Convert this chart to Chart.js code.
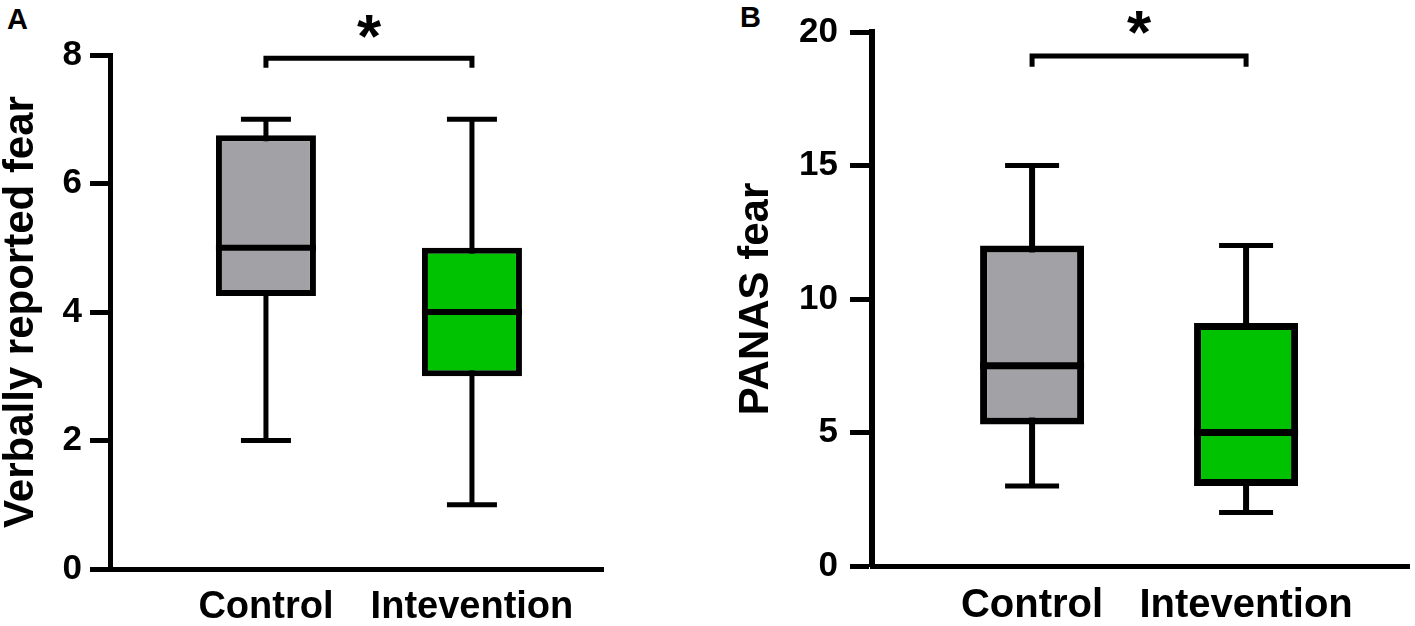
<!DOCTYPE html>
<html lang="en">
<head>
<meta charset="UTF-8">
<title>Fear box plots</title>
<script src="https://cdn.jsdelivr.net/npm/chart.js"></script>
<style>
  body { margin: 0; background: #fff; width: 1415px; height: 626px; position: relative; overflow: hidden;
         font-family: "Liberation Sans", Arial, sans-serif; }
  canvas { position: absolute; top: 0; }
  .tag { position: absolute; font-weight: bold; font-size: 29px; line-height: 29px; }
</style>
</head>
<body>
<div class="tag" style="left:7px;top:5px">A</div>
<div class="tag" style="left:740px;top:3px">B</div>
<canvas id="chartA" width="604" height="626" style="left:0"></canvas>
<canvas id="chartB" width="675" height="626" style="left:735px"></canvas>

<script>
const categories = ['Control', 'Intevention']
const groupPos = [1, 2]

// A: verbally reported fear
const fearMin = [2, 1]
const fearQ1 = [4.25, 3]
const fearMedian = [5, 4]
const fearQ3 = [6.75, 5]
const fearMax = [7, 7]
const fearTicks = [0, 2, 4, 6, 8]
const fearBracket = [7.8, 7.95]  // leg end, bar
const fearStar = 8.5

// B: PANAS fear
const panasMin = [3, 2]
const panasQ1 = [5.3, 3]
const panasMedian = [7.5, 5]
const panasQ3 = [12, 9.1]
const panasMax = [15, 12]
const panasTicks = [0, 5, 10, 15, 20]
const panasBracket = [18.7, 19.1]
const panasStar = 20.5

const FONT = '"Liberation Sans", Arial, sans-serif'
const boxColors = ['rgb(162,162,166)', 'rgb(0,194,0)']

const starPlugin = {
  id: 'star',
  afterDraw(chart, args, opts) {
    const { ctx, scales: { x, y } } = chart
    ctx.save()
    ctx.font = `bold ${opts.size}px ${FONT}`
    ctx.textAlign = 'center'
    ctx.textBaseline = 'alphabetic'
    ctx.fillStyle = '#000'
    ctx.fillText('*', x.getPixelForValue(1.5), y.getPixelForValue(opts.value) + opts.size * 0.55)
    ctx.restore()
  }
}

function makePanel(canvas, d, s) {
  const pts = vals => groupPos.map((x, i) => ({ x, y: vals[i] }))
  return new Chart(canvas, {
    type: 'bar',
    data: {
      datasets: [
        {
          type: 'bar', order: 3, grouped: false,
          data: groupPos.map((x, i) => ({ x, y: [d.min[i], d.max[i]] })),
          backgroundColor: '#000', maxBarThickness: s.whisker
        },
        {
          type: 'bar', order: 2, grouped: false,
          data: groupPos.map((x, i) => ({ x, y: [d.q1[i], d.q3[i]] })),
          backgroundColor: boxColors, borderColor: '#000', borderWidth: s.boxBorder,
          borderSkipped: false, maxBarThickness: s.box
        },
        {
          type: 'line', order: 1, showLine: false,
          data: pts(d.median),
          pointStyle: 'line', pointRadius: s.box / 2, pointBorderWidth: s.median,
          pointBorderColor: '#000'
        },
        {
          type: 'line', order: 1, showLine: false,
          data: pts(d.min).concat(pts(d.max)),
          pointStyle: 'line', pointRadius: s.cap / 2, pointBorderWidth: 5,
          pointBorderColor: '#000'
        },
        {
          type: 'line', order: 0,
          data: [
            { x: 1, y: d.bracket[0] }, { x: 1, y: d.bracket[1] },
            { x: 2, y: d.bracket[1] }, { x: 2, y: d.bracket[0] }
          ],
          borderColor: '#000', borderWidth: s.bracket, pointRadius: 0, fill: false
        }
      ]
    },
    options: {
      responsive: false,
      animation: false,
      events: [],
      layout: { autoPadding: false, padding: { top: s.top, left: 0, right: 0, bottom: 0 } },
      plugins: {
        legend: { display: false },
        tooltip: { enabled: false },
        star: { value: d.star, size: 62 }
      },
      scales: {
        x: {
          type: 'linear', min: s.xMin, max: s.xMax, offset: false,
          grid: { display: false, drawTicks: false, offset: false },
          border: { display: true, color: '#000', width: s.xAxis },
          afterBuildTicks: ax => { ax.ticks = groupPos.map(v => ({ value: v })) },
          afterFit: ax => { ax.height = s.bottom; ax.paddingLeft = 0; ax.paddingRight = 0 },
          ticks: {
            autoSkip: false, maxRotation: 0, padding: 16, color: '#000',
            font: { family: FONT, size: s.xFont, weight: 'bold' },
            callback: v => categories[groupPos.indexOf(v)]
          }
        },
        y: {
          min: d.ticks[0], max: d.ticks[d.ticks.length - 1],
          afterBuildTicks: ax => { ax.ticks = d.ticks.map(v => ({ value: v })) },
          afterFit: ax => { ax.width = s.left; ax.paddingTop = 0; ax.paddingBottom = 0 },
          grid: { drawOnChartArea: false, drawTicks: true, tickLength: s.tick, tickWidth: 5,
                  color: '#000', tickColor: '#000' },
          border: { display: true, color: '#000', width: s.yAxis },
          ticks: { padding: s.tickPad, color: '#000', font: { family: FONT, size: 35, weight: 'bold' } },
          title: {
            display: true, text: d.title, color: '#000', padding: 0,
            font: { family: FONT, size: 42, weight: 'bold', lineHeight: 1 }
          }
        }
      }
    },
    plugins: [starPlugin]
  })
}

makePanel(document.getElementById('chartA'), {
  min: fearMin, q1: fearQ1, median: fearMedian, q3: fearQ3, max: fearMax,
  ticks: fearTicks, bracket: fearBracket, star: fearStar, title: 'Verbally reported fear'
}, {
  left: 110, top: 55, bottom: 57, xMin: 0.243, xMax: 2.641, tick: 20, tickPad: 8,
  box: 100, cap: 50, whisker: 5, boxBorder: 6, median: 6, bracket: 5, xAxis: 5, yAxis: 5, xFont: 38
})

makePanel(document.getElementById('chartB'), {
  min: panasMin, q1: panasQ1, median: panasMedian, q3: panasQ3, max: panasMax,
  ticks: panasTicks, bracket: panasBracket, star: panasStar, title: 'PANAS fear'
}, {
  left: 137, top: 32, bottom: 60, xMin: 0.252, xMax: 2.766, tick: 22, tickPad: 12,
  box: 104, cap: 54, whisker: 6, boxBorder: 7, median: 7, bracket: 5, xAxis: 5, yAxis: 6, xFont: 40
})
</script>
</body>
</html>
